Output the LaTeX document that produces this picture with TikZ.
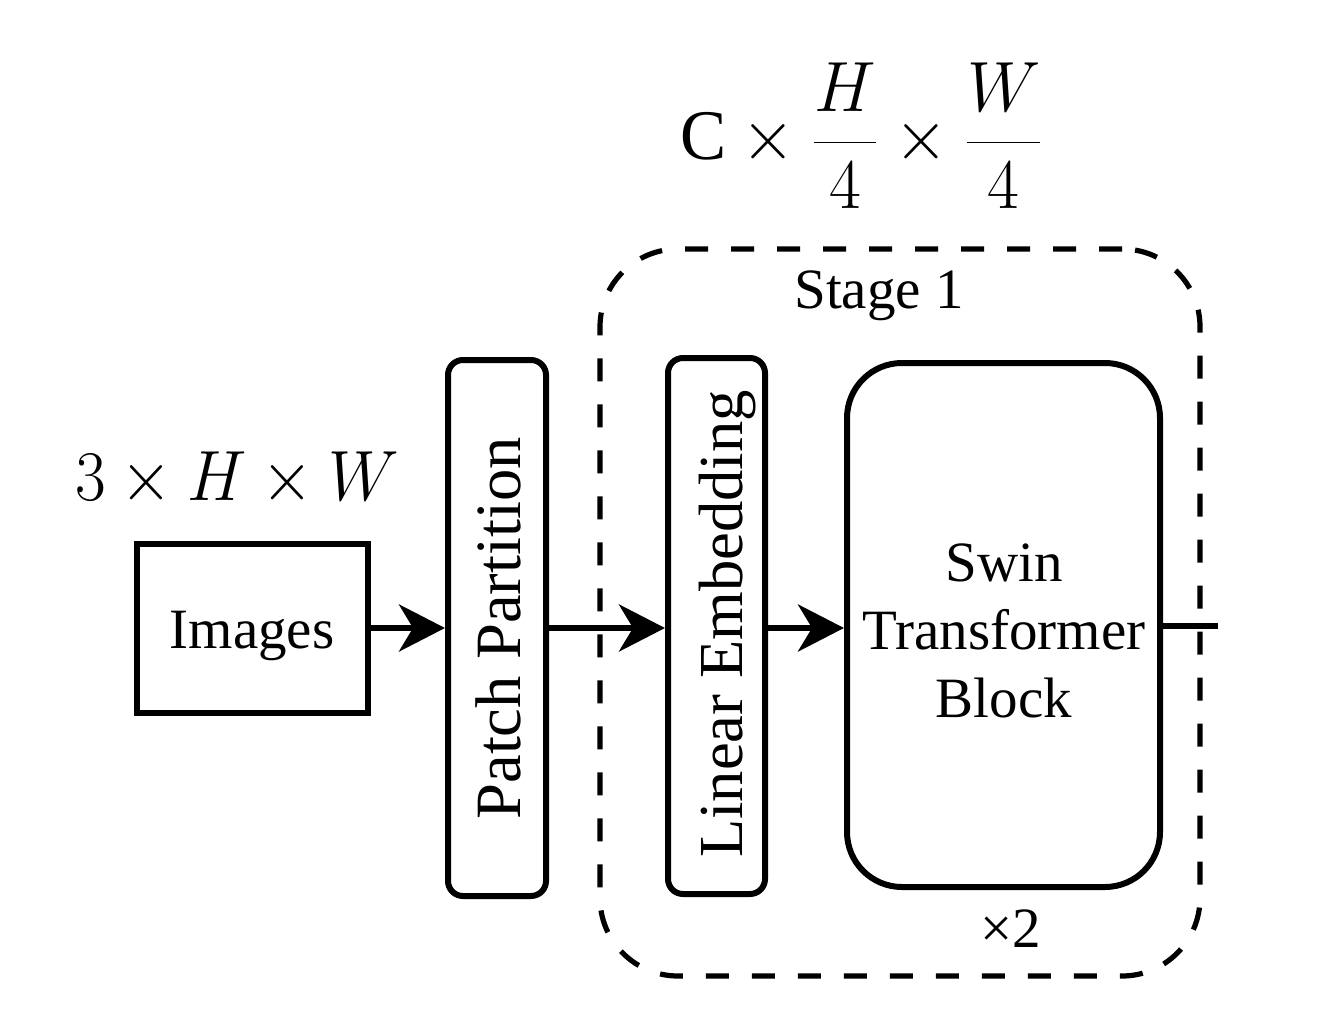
\documentclass[tikz,border=0pt]{standalone}
\usepackage{graphicx}
\usepackage{fontspec}
\setmainfont{Liberation Serif}
\usetikzlibrary{arrows.meta}
\newcommand{\bigmath}[2]{\scalebox{#1}[1.43]{\fontsize{24.88}{28}\selectfont #2}}
\begin{document}
\begin{tikzpicture}[x=0.5pt,y=-0.5pt,
  box/.style={draw,line width=3pt,inner sep=0pt},
  stagebox/.style={draw,line width=2.6pt,dash pattern=on 11.5pt off 11.5pt,inner sep=0pt,rounded corners=39pt},
  lbl/.style={font=\fontsize{28.5}{34}\selectfont,inner sep=0pt},
  rlbl/.style={rotate=90,inner sep=0pt,anchor=base},
  mlbl/.style={inner sep=0pt,anchor=base},
  arr/.style={line width=3pt,-{Stealth[length=23pt,width=23.5pt,inset=7pt]}},
  conn/.style={line width=3pt}]
\useasboundingbox (0,0) rectangle (1322,1022);
% stage frame
\node[stagebox,minimum width=300pt,minimum height=363.5pt] (stage) at (900,612.5) {};
\node[lbl,anchor=base] (stagelbl) at (879,308) {Stage 1};
% boxes
\node[box,minimum width=115.5pt,minimum height=84.5pt] (img) at (252,628) {};
\node[lbl,anchor=base] (imglbl) at (252,648) {Images};
\node[box,rounded corners=7.5pt,minimum width=49pt,minimum height=268pt] (patch) at (497,628) {};
\node[rlbl,font=\fontsize{32.3}{36}\selectfont] (patchlbl) at (520,628.5) {Patch Partition};
\node[box,rounded corners=7.5pt,minimum width=48.5pt,minimum height=268pt] (lin) at (716.5,626) {};
\node[rlbl,font=\fontsize{31.3}{36}\selectfont] (linlbl) at (742,624) {Linear Embedding};
\node[box,rounded corners=27.5pt,minimum width=156.5pt,minimum height=262pt] (swin) at (1003.5,625) {};
\node[lbl,align=center] (swinlbl) at (1004,631) {Swin\\Transformer\\Block};
\node[lbl,anchor=base] (rep) at (1011,947) {×2};
% dimension labels
\node[mlbl] (dimin) at (237,500) {\bigmath{1.34}{$3\times H\times W$}};
\node[mlbl] (dimout) at (862,160) {\bigmath{1.39}{$\displaystyle \mathrm{C}\times\frac{H}{4}\times\frac{W}{4}$}};
% connectors
\coordinate (out) at (1218,626);
\draw[arr] (img.east) -- (img.east -| patch.west);
\draw[arr] (img.east -| patch.east) -- (img.east -| lin.west);
\draw[arr] (img.east -| lin.east) -- (img.east -| swin.west);
\draw[conn] (out -| swin.east) -- (out);
\end{tikzpicture}
\end{document}
